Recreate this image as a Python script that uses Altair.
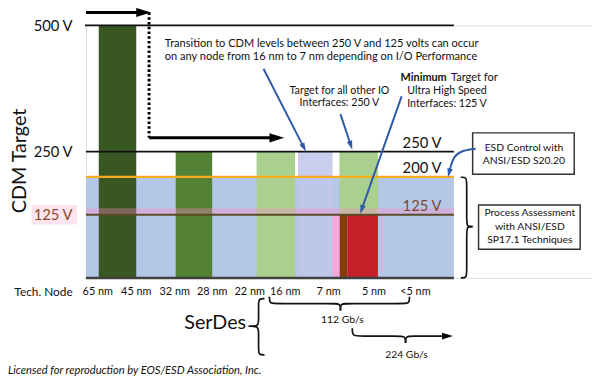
import math
import altair as alt
import pandas as pd

# ---------------- data ----------------
tech_nodes = ["65 nm", "45 nm", "32 nm", "28 nm", "22 nm", "16 nm", "7 nm", "5 nm", "<5 nm"]
axis_levels = [500, 250, 125]                 # labelled on the left axis
right_levels = [250, 200, 125]                # labelled on the right
bar_names = ["65-45 nm", "32-28 nm", "22-16 nm", "7 nm", "5 nm other IO",
             "5 nm edge", "5 nm UHS", "7-5 nm UHS"]
bar_low = [0, 0, 0, 0, 125, 0, 0, 0]
bar_high = [500, 250, 250, 250, 250, 125, 125, 125]
esd_control_level = 200                        # ANSI/ESD S20.20
uhs_band = [125, 138]                          # highlighted 125 V band
level_values = [500, 250, 200, 125, 0]
serdes_rates = ["112 Gb/s", "224 Gb/s"]

# ---------------- layout / style ----------------
FONT = "Lato"
bar_x0 = [100, 178, 260, 302, 344, 344, 352, 337]
bar_x1 = [138, 215, 299, 337, 383, 352, 383, 344]
bar_colors = ["#385723", "#548235", "#a9d08e", "#c0c6e9", "#a9d08e", "#843c0c", "#c3202a", "#f5a8d8"]
bar_opac = [1, 1, 1, 0.85, 1, 1, 1, 1]
node_x = [99, 138, 177, 215, 253, 289, 333, 379, 421]
level_colors = ["#111111", "#111111", "#f9ab1f", "#5b4b26", "#404040"]
level_widths = [1.6, 1.6, 2.5, 2, 2.5]
level_x0 = [86, 87, 87, 87, 87]
PLOT_RIGHT = 460

X = alt.Scale(domain=[87, 600], nice=False, zero=False)
YV = alt.Scale(domain=[0, 500], nice=False, zero=False)
YP = alt.Scale(domain=[23, 279], nice=False, zero=False, reverse=True)


def xq(f):
    return alt.X(f, type="quantitative", scale=X, axis=None)


def vq(f, axis=None):
    return alt.Y(f, type="quantitative", scale=YV, axis=axis)


def pq(f):
    return alt.Y(f, type="quantitative", scale=YP, axis=None)


yaxis = alt.Axis(
    values=axis_levels, labelExpr="datum.value + ' V'", domain=False, ticks=False,
    tickSize=0, grid=False, labelPadding=14, labelFont=FONT, labelFontSize=15,
    labelColor={"condition": {"test": "datum.value === 125", "value": "#8a4a2c"}, "value": "#111111"},
    title="CDM Target", titleFont=FONT, titleFontSize=20, titleFontWeight="normal",
    titleColor="#111111", titleAngle=270, titleX=-67, titleY=137, titleBaseline="middle",
    titleAlign="center", zindex=2,
)

# ---------- voltage layers ----------
bg = alt.Chart(pd.DataFrame({"x0": [87], "x1": [PLOT_RIGHT], "v0": [0], "v1": [esd_control_level]})).mark_rect(
    color="#b4c7e7").encode(x=xq("x0"), x2="x1", y=vq("v0", yaxis), y2="v1")

bars_df = pd.DataFrame({"name": bar_names, "x0": bar_x0, "x1": bar_x1, "v0": bar_low,
                        "v1": bar_high, "col": bar_colors, "op": bar_opac})
bars = alt.Chart(bars_df).mark_rect(clip=False).encode(
    x=xq("x0"), x2="x1", y=vq("v0"), y2="v1",
    color=alt.Color("col:N", scale=None), opacity=alt.Opacity("op:Q", scale=None))

band = alt.Chart(pd.DataFrame({"x0": [87], "x1": [PLOT_RIGHT], "v0": [uhs_band[0]], "v1": [uhs_band[1]]})).mark_rect(
    color="#ff8cc8", opacity=0.35).encode(x=xq("x0"), x2="x1", y=vq("v0"), y2="v1")

lv_df = pd.DataFrame({"v": level_values, "x0": level_x0, "x1": [PLOT_RIGHT] * 5,
                      "col": level_colors, "w": level_widths})
levels = alt.Chart(lv_df).mark_rule(clip=False).encode(
    x=xq("x0"), x2="x1", y=vq("v"), color=alt.Color("col:N", scale=None),
    strokeWidth=alt.StrokeWidth("w:Q", scale=None))

rl_df = pd.DataFrame({"v": right_levels, "x": [408] * 3,
                      "t": [f"{v} V" for v in right_levels],
                      "col": ["#111111", "#111111", "#7a4a35"]})
right_lbl = alt.Chart(rl_df).mark_text(align="left", baseline="bottom", dy=-1, font=FONT, fontSize=15).encode(
    x=xq("x"), y=vq("v"), text="t:N", color=alt.Color("col:N", scale=None))

# ---------- pixel-positioned annotation layers ----------
lbl_bg = alt.Chart(pd.DataFrame({"x0": [32], "x1": [78], "p0": [205], "p1": [225]})).mark_rect(
    color="#fde4ef").encode(x=xq("x0"), x2="x1", y=pq("p0"), y2="p1")

boxes = alt.Chart(pd.DataFrame({"x0": [479, 485], "x1": [582, 588], "p0": [132, 205], "p1": [174, 250]})).mark_rect(
    fill="white", stroke="#333333", strokeWidth=1.5).encode(x=xq("x0"), x2="x1", y=pq("p0"), y2="p1")

center_txt = pd.DataFrame([
    ("Target for all other IO", 344, 90, 10.8),
    ("Interfaces: 250 V", 344, 102, 10.8),
    ("Ultra High Speed", 453, 90, 10.8),
    ("Interfaces: 125 V", 453, 103, 10.8),
    ("ESD Control with", 531, 147, 10.5),
    ("ANSI/ESD S20.20", 531, 161, 10.5),
    ("Process Assessment", 537, 213, 10.5),
    ("with ANSI/ESD", 537, 227, 10.5),
    ("SP17.1 Techniques", 537, 241, 10.5),
    (serdes_rates[0], 347, 322, 10.5),
    (serdes_rates[1], 412, 357, 10.5),
    ("Tech. Node", 44, 293, 12),
    ("SerDes", 218, 325, 20),
] + [(n, x, 293, 11) for n, x in zip(tech_nodes, node_x)], columns=["t", "x", "p", "fs"])
ctext = alt.Chart(center_txt).mark_text(align="center", baseline="middle", font=FONT, color="#111111").encode(
    x=xq("x"), y=pq("p"), text="t:N", size=alt.Size("fs:Q", scale=None))

left_txt = pd.DataFrame([
    ("Transition to CDM levels between 250 V and 125 volts can occur", 167, 42),
    ("on any node from 16 nm to 7 nm depending on I/O Performance", 167, 55),
    ("Target for", 457, 76),
], columns=["t", "x", "p"])
ltext = alt.Chart(left_txt).mark_text(align="left", baseline="middle", font=FONT, fontSize=11.2, color="#111111").encode(
    x=xq("x"), y=pq("p"), text="t:N")

btext = alt.Chart(pd.DataFrame({"t": ["Minimum"], "x": [406], "p": [76]})).mark_text(
    align="left", baseline="middle", font=FONT, fontSize=11, fontWeight="bold", color="#111111").encode(
    x=xq("x"), y=pq("p"), text="t:N")

itext = alt.Chart(pd.DataFrame({"t": ["Licensed for reproduction by EOS/ESD Association, Inc."], "x": [8], "p": [373]})).mark_text(
    align="left", baseline="middle", font=FONT, fontSize=11.3, fontStyle="italic", color="#111111").encode(
    x=xq("x"), y=pq("p"), text="t:N")


# ---------- arrows and braces ----------
def head(prev, tip, length):
    dx, dy = tip[0] - prev[0], tip[1] - prev[1]
    n = math.hypot(dx, dy)
    ux, uy = dx / n, dy / n
    c = (tip[0] - ux * length / 2, tip[1] - uy * length / 2)
    ang = math.degrees(math.atan2(ux, -uy)) % 360
    base = (tip[0] - ux * length * 0.85, tip[1] - uy * length * 0.85)
    return c, ang, base


def path_rows(g, pts):
    return [{"g": g, "i": i, "x": p[0], "p": p[1]} for i, p in enumerate(pts)]


black_lines, blue_lines, heads = [], [], []

# thick black arrows
for g, (tail, tip) in enumerate([((87, 10), (153, 10)), ((151, 137), (288, 137))]):
    c, a, b = head(tail, tip, 15)
    black_lines += path_rows(f"k{g}", [tail, b])
    heads.append({"x": c[0], "p": c[1], "a": a, "s": 225, "col": "#000000"})

# blue straight arrows
for g, (tail, tip) in enumerate([((267, 67), (310, 151)), ((345, 113), (357, 149)), ((407, 95), (365, 214))]):
    c, a, b = head(tail, tip, 9)
    blue_lines += path_rows(f"b{g}", [tail, b])
    heads.append({"x": c[0], "p": c[1], "a": a, "s": 81, "col": "#2f5aa8"})

# curved ESD arrow
c, a, b = head((458, 161), (454, 177), 9)
blue_curve = path_rows("esd", [(482, 148), (467, 150), (459, 157), b])
heads.append({"x": c[0], "p": c[1], "a": a, "s": 81, "col": "#2f5aa8"})

# 224 Gb/s bent arrow with brace tip
c, a, b = head((440, 338), (459, 338), 11)
heads.append({"x": c[0], "p": c[1], "a": a, "s": 121, "col": "#000000"})

braces = []
braces += path_rows("r1", [(467, 177), (473, 177), (473, 183), (473, 221), (473, 227), (479, 227)])
braces += path_rows("r2", [(479, 227), (473, 227), (473, 233), (473, 273), (473, 279), (467, 279)])
braces += path_rows("s1", [(268, 300), (262, 300), (262, 306), (262, 322), (262, 328), (252, 328)])
braces += path_rows("s2", [(252, 328), (262, 328), (262, 334), (262, 351), (262, 357), (268, 357)])
braces += path_rows("h1", [(273, 298), (273, 305), (279, 305), (339, 305), (345, 305), (345, 312)])
braces += path_rows("h2", [(345, 312), (345, 305), (351, 305), (409, 305), (415, 305), (415, 298)])
braces += path_rows("a1", [(357, 330), (357, 338), (364, 338), (404, 338), (411, 338), (411, 345)])
braces += path_rows("a2", [(411, 345), (411, 338), (418, 338), (435, 338), b])


def line_layer(rows, color, width, interp="linear", dash=None):
    kw = dict(color=color, strokeWidth=width, interpolate=interp, clip=False, strokeCap="butt")
    if dash:
        kw["strokeDash"] = dash
    return alt.Chart(pd.DataFrame(rows)).mark_line(**kw).encode(
        x=xq("x"), y=pq("p"), detail="g:N", order="i:Q")


dotted = line_layer(path_rows("d", [(151, 10), (151, 137)]), "#000000", 3, dash=[2.6, 2.2])
black_l = line_layer(black_lines, "#000000", 3)
blue_l = line_layer(blue_lines, "#2f5aa8", 2)
blue_c = line_layer(blue_curve, "#2f5aa8", 2, "basis")
brace_l = line_layer(braces, "#111111", 1.7, "basis")

heads_l = alt.Chart(pd.DataFrame(heads)).mark_point(
    shape="M0,-1L0.62,1L-0.62,1Z", filled=True, opacity=1, strokeWidth=0, clip=False).encode(
    x=xq("x"), y=pq("p"), angle=alt.Angle("a:Q", scale=None), size=alt.Size("s:Q", scale=None),
    color=alt.Color("col:N", scale=None))

chart = alt.layer(
    bg, bars, band, levels, right_lbl, lbl_bg, boxes, ctext, ltext, btext, itext,
    dotted, black_l, blue_l, blue_c, brace_l, heads_l,
).resolve_scale(y="independent").properties(
    width=513, height=256, autosize="none",
    padding={"left": 79, "top": 15, "right": 0, "bottom": 107},
).configure_view(stroke=None).configure(background="white")

chart.save("out.html", embed_options={"renderer": "svg", "actions": False})
